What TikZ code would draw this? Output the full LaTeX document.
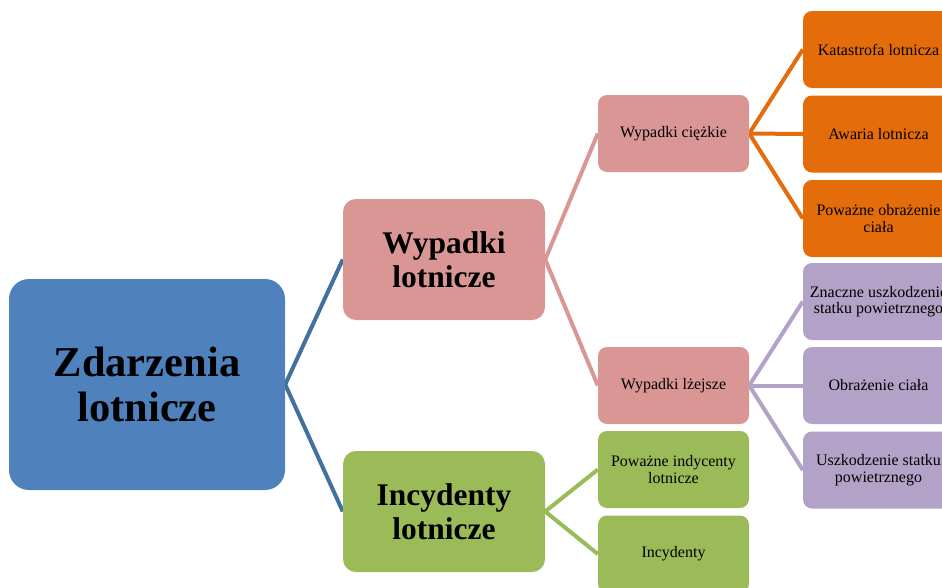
\documentclass[tikz,border=0pt]{standalone}
\usepackage{fontspec}
\setmainfont{Liberation Serif}
\usetikzlibrary{backgrounds}
\definecolor{cblue}{HTML}{4F81BD}
\definecolor{cblueline}{HTML}{41719C}
\definecolor{cpink}{HTML}{D99694}
\definecolor{cgreen}{HTML}{9BBB59}
\definecolor{corange}{HTML}{E46C0A}
\definecolor{cpurple}{HTML}{B3A2C7}
\begin{document}
\begin{tikzpicture}[x=1pt,y=-1pt,
 box/.style={rectangle, inner sep=2pt, align=center, text=black},
 bigbox/.style={box, minimum width=276pt, minimum height=211pt, rounded corners=20pt, font=\fontsize{42.5}{45}\selectfont\bfseries},
 midbox/.style={box, minimum width=202pt, minimum height=121pt, rounded corners=13pt, font=\fontsize{31.5}{34}\selectfont\bfseries},
 smallbox/.style={box, minimum width=151pt, minimum height=77pt, rounded corners=9pt, font=\fontsize{16}{16.5}\selectfont},
 link/.style={line width=4pt}
]
\useasboundingbox (0,0) rectangle (942,587);
\begin{scope}[on background layer]
\fill[white] (0,0) rectangle (942,587);
\end{scope}
\clip (0,0) rectangle (942,587);

\node[bigbox, fill=cblue] (root) at (147,384.5) {Zdarzenia\\lotnicze};
\node[midbox, fill=cpink] (wyp) at (444,259.5) {Wypadki\\lotnicze};
\node[midbox, fill=cgreen] (inc) at (444,511.5) {Incydenty\\lotnicze};

\node[smallbox, fill=cpink] (ciez) at (673.5,133.5) {Wypadki ciężkie};
\node[smallbox, fill=cpink] (lzej) at (673.5,385.5) {Wypadki lżejsze};
\node[smallbox, fill=cgreen] (powinc) at (673.5,469.5) {Poważne indycenty\\lotnicze};
\node[smallbox, fill=cgreen] (incs) at (673.5,554) {Incydenty};

\node[smallbox, fill=corange] (kat) at (878.5,49.5) {Katastrofa lotnicza};
\node[smallbox, fill=corange] (awa) at (878.5,134) {Awaria lotnicza};
\node[smallbox, fill=corange] (obr) at (878.5,218.5) {Poważne obrażenie\\ciała};

\node[smallbox, fill=cpurple] (znu) at (878.5,301.5) {Znaczne uszkodzenie\\statku powietrznego};
\node[smallbox, fill=cpurple] (obc) at (878.5,385.5) {Obrażenie ciała};
\node[smallbox, fill=cpurple] (usz) at (878.5,470) {Uszkodzenie statku\\powietrznego};

\begin{scope}[on background layer]
\draw[link, cblueline] (wyp.west) -- (root.east) -- (inc.west);
\draw[link, cpink] (ciez.west) -- (wyp.east) -- (lzej.west);
\draw[link, cgreen] (powinc.west) -- (inc.east) -- (incs.west);
\draw[link, corange] (kat.west) -- (ciez.east) -- (obr.west);
\draw[link, corange] (ciez.east) -- (awa.west);
\draw[link, cpurple] (znu.west) -- (lzej.east) -- (usz.west);
\draw[link, cpurple] (lzej.east) -- (obc.west);
\end{scope}
\end{tikzpicture}
\end{document}
